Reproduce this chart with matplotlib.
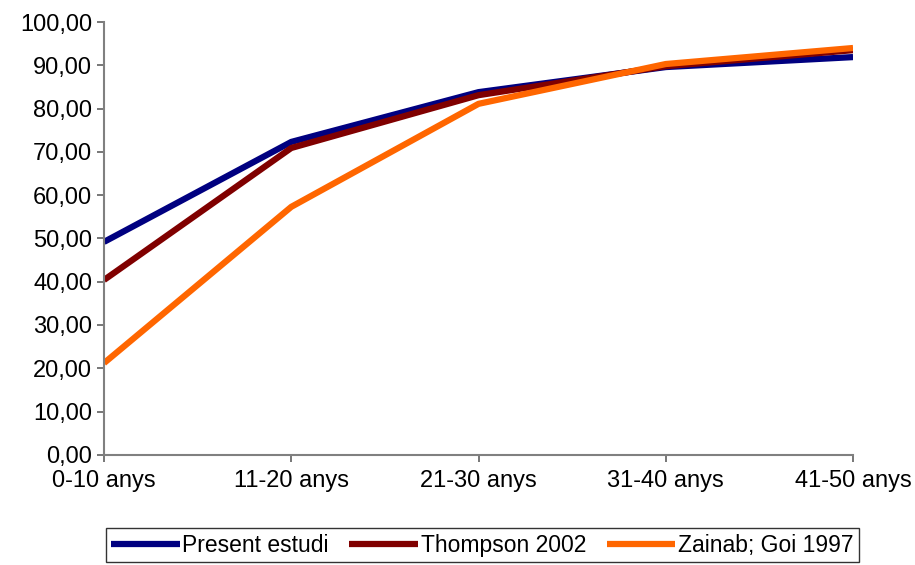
import matplotlib.pyplot as plt
import numpy as np

plt.rcParams['font.family'] = ['Liberation Sans', 'DejaVu Sans']

# Age groups and percentages
groups = ['0-10 anys', '11-20 anys', '21-30 anys', '31-40 anys', '41-50 anys']
present = [49.2, 72.3, 83.8, 89.6, 91.9]
thompson = [40.4, 70.9, 83.1, 89.8, 93.5]
zainab = [21.2, 57.3, 81.1, 90.3, 94.0]

fig = plt.figure(figsize=(9.15, 5.65), dpi=100)
ax = fig.add_axes([0.1137, 0.195, 0.8186, 0.766])

x = np.arange(len(groups))
ax.plot(x, present, color='#000080', lw=4.5, label='Present estudi', solid_capstyle='butt')
ax.plot(x, thompson, color='#800000', lw=4.5, label='Thompson 2002', solid_capstyle='butt')
ax.plot(x, zainab, color='#FF6600', lw=4.5, label='Zainab; Goi 1997', solid_capstyle='butt')

ax.set_xlim(0, 4)
ax.set_ylim(0, 100)
ax.set_yticks(np.arange(0, 101, 10))
ax.set_yticklabels([f'{v:.2f}'.replace('.', ',') for v in range(0, 101, 10)])
ax.set_xticks(x)
ax.set_xticklabels(groups)
ax.tick_params(labelsize=17, color='#606060', length=5, width=1.2, direction='out')
ax.tick_params(axis='x', pad=6)

for s in ['top', 'right']:
    ax.spines[s].set_visible(False)
for s in ['left', 'bottom']:
    ax.spines[s].set_color('#808080')
    ax.spines[s].set_linewidth(1.5)
for lab in ax.get_xticklabels():
    lab.set_clip_on(False)

leg = fig.legend(loc='center', bbox_to_anchor=(0.527, 0.035), ncol=3, fontsize=16.5,
                 frameon=True, fancybox=False, handlelength=3.0, handletextpad=0.1,
                 columnspacing=0.9, borderpad=0.25, borderaxespad=0, edgecolor='black')
leg.get_frame().set_linewidth(1.0)

fig.savefig('out.png', dpi=100)
